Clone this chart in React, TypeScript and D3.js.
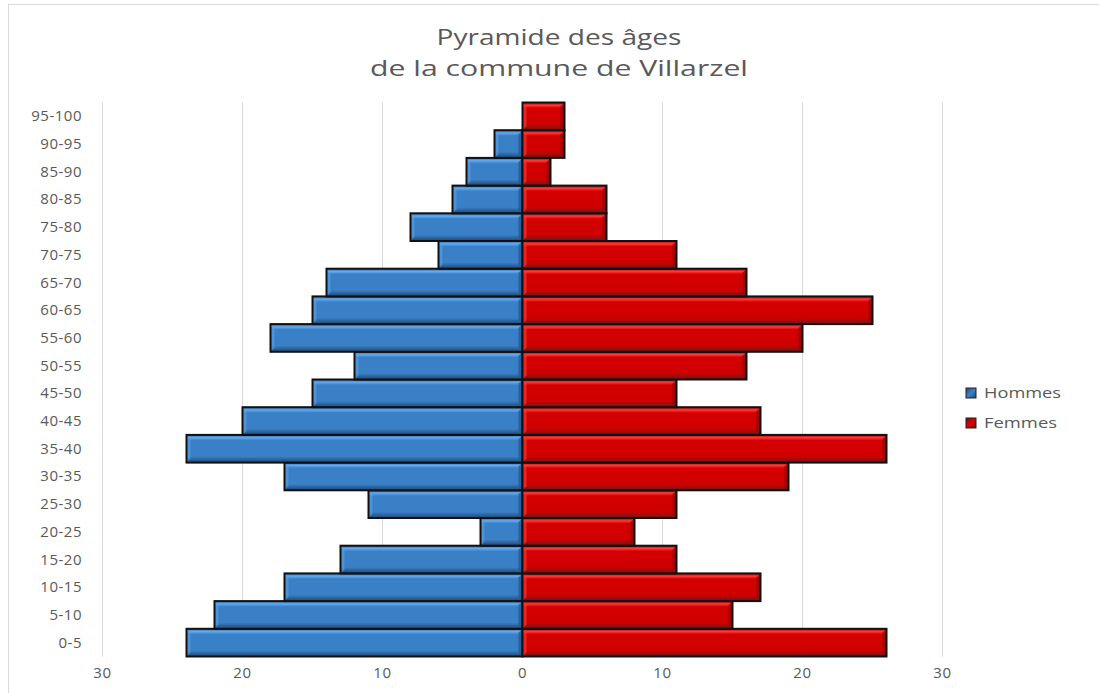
import React from "react";
import * as d3 from "d3";

const categories = ["0-5","5-10","10-15","15-20","20-25","25-30","30-35","35-40","40-45","45-50","50-55","55-60","60-65","65-70","70-75","75-80","80-85","85-90","90-95","95-100"];
const hommes = [24,22,17,13,3,11,17,24,20,15,12,18,15,14,6,8,5,4,2,0];
const femmes = [26,15,17,11,8,11,19,26,17,11,16,20,25,16,11,6,6,2,3,3];
const xTicks = [-30,-20,-10,0,10,20,30];
const titleLines = ["Pyramide des âges", "de la commune de Villarzel"];
const titleWidths = [245, 378];
const seriesNames = ["Hommes", "Femmes"];
const legendWidths = [77, 73];

const W = 1099, H = 693;
const plotLeft = 102.5, plotRight = 942.5, plotTop = 102.5, plotBottom = 656.5;
const FONT = "'Open Sans', 'Liberation Sans', sans-serif";
const TXT = "#595959";

export default function App() {
  const x = d3.scaleLinear().domain([-30, 30]).range([plotLeft, plotRight]);
  const y = d3.scaleBand<string>().domain([...categories].reverse()).range([plotTop, plotBottom]).paddingInner(0).paddingOuter(0);
  const bh = y.bandwidth();

  const bar = (cat: string, v: number, side: "h" | "f") => {
    const x0 = x(0);
    const x1 = side === "h" ? x(-v) : x(v);
    const left = Math.min(x0, x1);
    const w = Math.abs(x1 - x0);
    const top = y(cat)!;
    if (w <= 0) return null;
    const b = 4;
    const light = side === "h" ? "#5aa0e6" : "#ff3a3a";
    const dark = side === "h" ? "#24578e" : "#8a0a0a";
    return (
      <g key={side + cat}>
        <rect x={left} y={top} width={w} height={bh} fill={`url(#grad-${side})`} />
        <polygon points={`${left},${top} ${left + b},${top + b} ${left + b},${top + bh - b} ${left},${top + bh}`} fill={light} opacity={0.6} />
        <polygon points={`${left + w},${top} ${left + w - b},${top + b} ${left + w - b},${top + bh - b} ${left + w},${top + bh}`} fill={dark} opacity={0.75} />
        <rect x={left} y={top} width={w} height={bh} fill="none" stroke="#111" strokeWidth={2} />
      </g>
    );
  };

  return (
    <svg width={W} height={H} style={{ position: "absolute", left: 0, top: 0, background: "#fff" }}>
      <defs>
        <linearGradient id="grad-h" x1="0" y1="0" x2="0" y2="1">
          <stop offset="0" stopColor="#2f6aa8" />
          <stop offset="0.1" stopColor="#62aaf0" />
          <stop offset="0.2" stopColor="#3a80c6" />
          <stop offset="0.78" stopColor="#3a80c6" />
          <stop offset="0.9" stopColor="#2b5f96" />
          <stop offset="1" stopColor="#1f4a78" />
        </linearGradient>
        <linearGradient id="grad-f" x1="0" y1="0" x2="0" y2="1">
          <stop offset="0" stopColor="#b00000" />
          <stop offset="0.1" stopColor="#ff3a3a" />
          <stop offset="0.2" stopColor="#d40000" />
          <stop offset="0.78" stopColor="#d00000" />
          <stop offset="0.9" stopColor="#941010" />
          <stop offset="1" stopColor="#6e1010" />
        </linearGradient>
        <linearGradient id="leg-h" x1="0" y1="0" x2="1" y2="1">
          <stop offset="0" stopColor="#1f4a78" />
          <stop offset="0.5" stopColor="#3a80c6" />
          <stop offset="1" stopColor="#1f4a78" />
        </linearGradient>
        <linearGradient id="leg-f" x1="0" y1="0" x2="1" y2="1">
          <stop offset="0" stopColor="#6e1010" />
          <stop offset="0.5" stopColor="#e00000" />
          <stop offset="1" stopColor="#6e1010" />
        </linearGradient>
      </defs>
      <line x1={8.5} x2={8.5} y1={4} y2={H} stroke="#d9d9d9" strokeWidth={1} />
      <line x1={8} x2={W} y1={4.5} y2={4.5} stroke="#d9d9d9" strokeWidth={1} />
      {titleLines.map((t, i) => (
        <text key={t} x={559} y={45 + i * 31} textAnchor="middle" fontFamily={FONT} fontSize={22} fill={TXT}
          textLength={titleWidths[i]} lengthAdjust="spacingAndGlyphs">{t}</text>
      ))}
      {xTicks.map((t) => (
        <line key={"g" + t} x1={x(t)} x2={x(t)} y1={plotTop} y2={plotBottom} stroke="#d9d9d9" strokeWidth={1} />
      ))}
      {xTicks.map((t) => (
        <text key={"t" + t} x={x(t)} y={678} textAnchor="middle" fontFamily={FONT} fontSize={15} letterSpacing={0.6} fill={TXT}>{Math.abs(t)}</text>
      ))}
      {categories.map((c) => (
        <text key={"c" + c} x={82} y={y(c)! + bh / 2 + 5} textAnchor="end" fontFamily={FONT} fontSize={15} letterSpacing={0.5} fill={TXT}>{c}</text>
      ))}
      {categories.map((c, i) => bar(c, hommes[i], "h"))}
      {categories.map((c, i) => bar(c, femmes[i], "f"))}
      {seriesNames.map((s, i) => (
        <g key={s}>
          <rect x={966} y={388 + i * 30} width={10} height={10} fill={i === 0 ? "url(#leg-h)" : "url(#leg-f)"} stroke="#222" strokeWidth={1} />
          <text x={984} y={398 + i * 30} fontFamily={FONT} fontSize={15} fill={TXT}
            textLength={legendWidths[i]} lengthAdjust="spacingAndGlyphs">{s}</text>
        </g>
      ))}
    </svg>
  );
}
